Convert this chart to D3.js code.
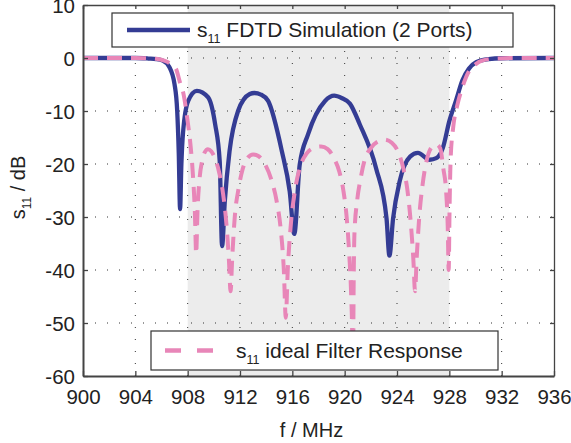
<!DOCTYPE html>
<html>
<head>
  <meta charset="utf-8">
  <script src="https://d3js.org/d3.v7.min.js"></script>
  <style>
    html, body {
      margin: 0px;
      padding: 0px;
      background: #fff;
      font-family: "Liberation Sans", Arial, Helvetica, sans-serif;
    }
    .tick text {
      font-size: 20.5px;
      fill: #222;
    }
    .axisLabel {
      font-size: 20px;
      fill: #222;
    }
  </style>
</head>
<body>
  <div id="chart"></div>
  <script>

      /*
      DATA
      */
      const xTicks = [900, 904, 908, 912, 916, 920, 924, 928, 932, 936];
      const yTicks = [-60, -50, -40, -30, -20, -10, 0, 10];
      const passband = [908, 928];

      // s11 FDTD simulation (2 ports)
      const fdtdFreq = [900, 904, 905, 905.6, 906.1, 906.6, 907.0, 907.2, 907.32, 907.42,
        907.52, 907.65, 908.04, 908.7, 909.56, 910.1, 910.45, 910.63, 910.84, 911.2,
        911.85, 912.75, 913.1, 913.6, 914.15, 915.2, 915.8, 916.15, 916.56, 917.2,
        918.5, 919.2, 919.8, 920.4, 921.15, 922.4, 923.2, 923.42, 923.7, 924.2,
        925.0, 925.6, 926.5, 927.0, 927.5, 928.0, 928.5, 929.0, 929.5, 930.05,
        931, 932, 936];
      const fdtdDb = [0, 0, -0.1, -0.2, -0.5, -1.7, -5, -10, -18, -28.5,
        -20, -14, -8.1, -6.2, -7.4, -12.5, -19.5, -35.5, -27, -17.6,
        -10, -6.8, -6.6, -6.9, -8.1, -17.6, -25.2, -33.2, -20.2, -14.4,
        -8.1, -7.1, -7.6, -8.6, -12.5, -20.8, -30.3, -37.3, -30.3, -23.3,
        -18.6, -17.9, -19.2, -18.9, -17, -11.9, -8.1, -4.2, -2, -0.8,
        -0.2, -0.05, 0];

      // s11 ideal filter response
      const idealFreq = [900, 904, 905, 905.6, 906.2, 906.7, 907.1, 907.4, 907.7, 908.0,
        908.2, 908.4, 908.55, 908.65, 908.75, 908.9, 909.1, 909.3, 909.55, 909.8,
        910.1, 910.4, 910.7, 910.95, 911.15, 911.28, 911.4, 911.6, 911.9, 912.2,
        912.6, 913.0, 913.4, 913.9, 914.4, 914.8, 915.1, 915.35, 915.5, 915.65,
        915.9, 916.2, 916.6, 917.1, 917.6, 918.2, 918.7, 919.2, 919.6, 919.9,
        920.15, 920.35, 920.5, 920.58, 920.63, 920.68, 920.75, 920.95, 921.2, 921.5,
        922.0, 922.5, 923.05, 923.6, 924.1, 924.5, 924.8, 925.05, 925.25, 925.38,
        925.5, 925.7, 925.95, 926.25, 926.6, 927.0, 927.3, 927.55, 927.75, 927.88,
        927.95, 928.02, 928.1, 928.3, 928.6, 929.0, 929.5, 930.0, 930.5, 931.5,
        933, 936];
      const idealDb = [0, 0, -0.05, -0.15, -0.5, -1.1, -2, -4.5, -7, -12,
        -16, -22, -29, -37, -29, -23, -19.5, -17.8, -17.2, -17.6,
        -19, -21.5, -25.5, -31, -38, -44, -38, -30, -24.5, -21,
        -18.8, -18.2, -18.5, -20, -23, -27, -32, -40, -49, -40,
        -31, -25, -20.5, -18, -17, -16.7, -17.2, -19, -21.5, -25,
        -30, -37, -45, -53, -66, -45, -33, -27, -23, -19.5,
        -17, -15.8, -15.4, -16, -17.8, -21, -25, -31, -38, -44,
        -38, -30, -24, -19.5, -17, -16.3, -17, -21, -25, -32,
        -40, -28, -19, -13, -9, -5.5, -2.5, -1.2, -0.5, -0.1,
        0, 0];

      const fdtdLabel = "FDTD Simulation (2 Ports)";
      const idealLabel = "ideal Filter Response";

      /*
      SVG CANVAS
      */
      const width = 571;
      const height = 443;
      const margin = {top: 5, left: 83, right: 17, bottom: 67};

      const svg = d3.select("#chart")
        .append("svg")
        .attr("width", width)
        .attr("height", height);

      const blue = "#343c94";
      const pink = "#e886b8";

      /*
      SCALES
      */
      const xScale = d3.scaleLinear()
        .domain([900, 936])
        .range([margin.left, width - margin.right]);

      const yScale = d3.scaleLinear()
        .domain([-60, 10])
        .range([height - margin.bottom, margin.top]);

      const x0 = xScale.range()[0], x1 = xScale.range()[1];
      const y0 = yScale.range()[1], y1 = yScale.range()[0];

      svg.append("clipPath")
        .attr("id", "plotClip")
        .append("rect")
          .attr("x", x0)
          .attr("y", y0)
          .attr("width", x1 - x0)
          .attr("height", y1 - y0);

      // passband shading
      svg.append("rect")
        .attr("x", xScale(passband[0]))
        .attr("y", y0)
        .attr("width", xScale(passband[1]) - xScale(passband[0]))
        .attr("height", y1 - y0)
        .attr("fill", "#ececec");

      /*
      GRID
      */
      const grid = svg.append("g")
        .attr("stroke", "#333")
        .attr("stroke-width", 1)
        .attr("stroke-dasharray", "1,11");

      grid.selectAll(".vgrid")
        .data(xTicks.slice(1, -1))
        .enter()
        .append("line")
          .attr("x1", d => xScale(d))
          .attr("x2", d => xScale(d))
          .attr("y1", y1)
          .attr("y2", y0);

      grid.selectAll(".hgrid")
        .data(yTicks.slice(1, -1))
        .enter()
        .append("line")
          .attr("x1", x0)
          .attr("x2", x1)
          .attr("y1", d => yScale(d))
          .attr("y2", d => yScale(d));

      /*
      CURVES
      */
      const line = d3.line()
        .x(d => xScale(d[0]))
        .y(d => yScale(d[1]))
        .curve(d3.curveMonotoneX);

      const plot = svg.append("g").attr("clip-path", "url(#plotClip)");

      plot.append("path")
        .datum(d3.zip(fdtdFreq, fdtdDb))
        .attr("d", line)
        .attr("fill", "none")
        .attr("stroke", blue)
        .attr("stroke-width", 4.3)
        .attr("stroke-linejoin", "round");

      plot.append("path")
        .datum(d3.zip(idealFreq, idealDb))
        .attr("d", line)
        .attr("fill", "none")
        .attr("stroke", pink)
        .attr("stroke-width", 4)
        .attr("stroke-dasharray", "15,9");

      /*
      AXES (ticks inward, box around the plot)
      */
      const fmt = d => String(d);

      svg.append("g")
        .attr("class", "axis")
        .attr("transform", `translate(0,${y1})`)
        .call(d3.axisBottom(xScale).tickValues(xTicks).tickFormat(fmt).tickSizeInner(-5).tickSizeOuter(0).tickPadding(9))
        .call(g => g.selectAll(".tick text").attr("dy", "0.95em"));

      svg.append("g")
        .attr("class", "axis")
        .attr("transform", `translate(${x0},0)`)
        .call(d3.axisLeft(yScale).tickValues(yTicks).tickFormat(fmt).tickSizeInner(-5).tickSizeOuter(0).tickPadding(8))
        .call(g => g.selectAll(".tick text").attr("dy", "0.36em"));

      svg.append("g")
        .attr("transform", `translate(0,${y0})`)
        .call(d3.axisTop(xScale).tickValues(xTicks).tickSizeInner(-4).tickSizeOuter(0).tickFormat(""));

      svg.append("g")
        .attr("transform", `translate(${x1},0)`)
        .call(d3.axisRight(yScale).tickValues(yTicks).tickSizeInner(-4).tickSizeOuter(0).tickFormat(""));

      svg.selectAll(".domain, .tick line")
        .attr("stroke", "#444")
        .attr("stroke-width", 1.3);

      svg.selectAll(".axis .domain")
        .attr("stroke-width", 2);

      /*
      LEGENDS
      */
      function legend(top, bottom, left, right, color, dash, sampleX, sampleW, textX, label) {
        svg.append("rect")
          .attr("x", left)
          .attr("y", top)
          .attr("width", right - left)
          .attr("height", bottom - top)
          .attr("fill", "#fff")
          .attr("stroke", "#333")
          .attr("stroke-width", 1.2);

        const cy = (top + bottom) / 2;
        svg.append("line")
          .attr("x1", sampleX)
          .attr("x2", sampleX + sampleW)
          .attr("y1", cy)
          .attr("y2", cy)
          .attr("stroke", color)
          .attr("stroke-width", 4.3)
          .attr("stroke-dasharray", dash);

        const t = svg.append("text")
          .attr("x", textX)
          .attr("y", cy + 7)
          .attr("font-size", 21)
          .attr("fill", "#222");
        t.append("tspan").text("s");
        t.append("tspan").attr("font-size", 12.5).attr("dy", 6).text("11");
        t.append("tspan").attr("dy", -6).text(" " + label);
      }

      legend(13, 47, 112, 513, blue, null, 127, 63, 197, fdtdLabel);
      legend(331, 370, 151, 498, pink, "16,16", 165, 48, 236, idealLabel);

      /*
      AXIS LABELS
      */
      svg.append("text")
        .attr("class", "axisLabel")
        .attr("x", (x0 + x1) / 2 - 7)
        .attr("y", 437)
        .attr("text-anchor", "middle")
        .text("f / MHz");

      const yl = svg.append("text")
        .attr("class", "axisLabel")
        .attr("transform", `translate(25,${(y0 + y1) / 2 - 3}) rotate(-90)`)
        .attr("text-anchor", "middle");
      yl.append("tspan").text("s");
      yl.append("tspan").attr("font-size", 12).attr("dy", 6).text("11");
      yl.append("tspan").attr("dy", -6).text(" / dB");

  </script>
</body>
</html>
